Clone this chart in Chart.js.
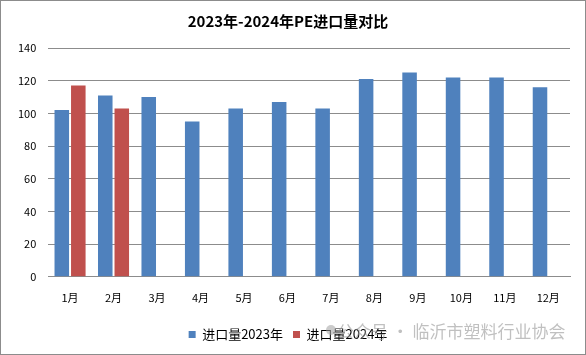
<!DOCTYPE html>
<html><head><meta charset="utf-8">
<script src="https://cdn.jsdelivr.net/npm/chart.js@4/dist/chart.umd.min.js"></script>
<style>html,body{margin:0;padding:0;background:#fff}#wrap{width:586px;height:355px;position:relative}</style>
</head><body><div id="wrap"><canvas id="c" width="586" height="355"></canvas></div>
<script>
const months = ['1月','2月','3月','4月','5月','6月','7月','8月','9月','10月','11月','12月'];
const import2023 = [102, 111, 110, 95, 103, 107, 103, 121, 125, 122, 122, 116];
const import2024 = [117, 103, null, null, null, null, null, null, null, null, null, null];
const seriesNames = ['进口量2023年', '进口量2024年'];
const titleText = '2023年-2024年PE进口量对比';
const watermark = '公众号 · 临沂市塑料行业协会';

const FONT = "'Noto Sans CJK SC', 'DejaVu Sans', sans-serif";

const decor = {
  id: 'decor',
  afterDraw(chart) {
    const ctx = chart.ctx;
    ctx.save();
    ctx.strokeStyle = '#8c8c8c';
    ctx.lineWidth = 1;
    ctx.strokeRect(0.5, 0.5, 585, 354);
    // watermark
    ctx.fillStyle = 'rgba(160,160,160,0.55)';
    ctx.beginPath();
    ctx.arc(331, 330, 5, 0, Math.PI * 2);
    ctx.fill();
    ctx.font = "17px " + FONT;
    ctx.fillStyle = 'rgba(150,150,150,0.6)';
    ctx.textBaseline = 'middle';
    ctx.textAlign = 'left';
    ctx.fillText(watermark, 337, 332);
    ctx.restore();
  }
};

new Chart(document.getElementById('c'), {
  type: 'bar',
  data: {
    labels: months,
    datasets: [
      { label: seriesNames[0], data: import2023, backgroundColor: '#4F81BD', categoryPercentage: 0.76, barPercentage: 0.88 },
      { label: seriesNames[1], data: import2024, backgroundColor: '#C0504D', categoryPercentage: 0.76, barPercentage: 0.88 }
    ]
  },
  options: {
    responsive: false,
    animation: false,
    devicePixelRatio: 1,
    layout: { padding: { left: 6, right: 16, top: 8, bottom: 4 } },
    plugins: {
      title: { display: true, text: titleText, color: '#000', font: { family: FONT, size: 15, weight: 'bold' }, padding: { top: 4, bottom: 18 } },
      legend: { position: 'bottom', labels: { boxWidth: 7, boxHeight: 7, color: '#000', font: { family: FONT, size: 13 }, padding: 10 } },
      tooltip: { enabled: false }
    },
    scales: {
      x: {
        grid: { display: false, drawTicks: false },
        border: { display: true, color: '#8c8c8c' },
        ticks: { color: '#000', font: { family: FONT, size: 11 }, padding: 14, maxRotation: 0 }
      },
      y: {
        min: 0, max: 140,
        ticks: { stepSize: 20, color: '#000', font: { family: FONT, size: 11 }, padding: 12 },
        grid: { color: '#8c8c8c', drawTicks: false },
        border: { display: false }
      }
    }
  },
  plugins: [decor]
});
</script></body></html>
